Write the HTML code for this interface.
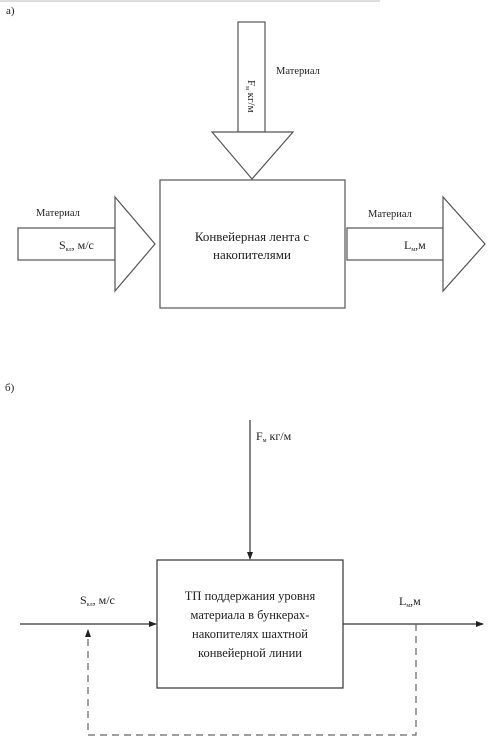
<!DOCTYPE html>
<html><head><meta charset="utf-8"><style>
html,body{margin:0;padding:0;background:#fff;}
svg{display:block;}
text{font-family:"Liberation Serif","DejaVu Serif",serif;fill:#222;}
</style></head><body>
<svg width="491" height="745" viewBox="0 0 491 745" xmlns="http://www.w3.org/2000/svg">
<defs>
<marker id="ah" markerWidth="8" markerHeight="6" refX="7" refY="3" orient="auto" markerUnits="userSpaceOnUse"><path d="M0,0 L8,3 L0,6 Z" fill="#222"/></marker>
</defs>
<rect x="0" y="0" width="380" height="2" fill="#ddd"/>
<text x="6" y="14" font-size="11">а)</text>
<g fill="none" stroke="#555" stroke-width="1.2">
<rect x="238" y="22" width="27" height="110"/>
<path d="M212,132 L293,132 L252,179 Z" fill="#fff"/>
<rect x="160" y="180" width="185" height="128"/>
<rect x="18" y="228" width="97" height="32"/>
<path d="M115,197 L115,291 L155,244 Z" fill="#fff"/>
<rect x="347" y="228" width="96" height="32"/>
<path d="M443,197 L443,291 L485,244 Z" fill="#fff"/>
</g>
<text x="276" y="74" font-size="10.5">Материал</text>
<text transform="translate(248,80) rotate(90)" font-size="11">F<tspan font-size="6" dy="2">м</tspan><tspan dy="-2">   кг/м</tspan></text>
<text x="36" y="216" font-size="10.5">Материал</text>
<text x="59" y="249" font-size="12">S<tspan font-size="6" dy="2">кл</tspan><tspan dy="-2">, м/с</tspan></text>
<text x="368" y="217" font-size="10.5">Материал</text>
<text x="404" y="249" font-size="12">L<tspan font-size="6" dy="2">м</tspan><tspan dy="-2">,м</tspan></text>
<text x="252" y="241" font-size="13" text-anchor="middle">Конвейерная лента с</text>
<text x="252" y="259" font-size="13" text-anchor="middle">накопителями</text>

<text x="5" y="391" font-size="11">б)</text>
<g fill="none" stroke="#333" stroke-width="1.2">
<line x1="250" y1="420" x2="250" y2="559" marker-end="url(#ah)"/>
<rect x="157" y="560" width="186" height="128"/>
<line x1="20" y1="624" x2="156" y2="624" marker-end="url(#ah)"/>
<line x1="343" y1="624" x2="483" y2="624" marker-end="url(#ah)"/>
<path d="M416,624 L416,735 L88,735 L88,630" stroke="#666" stroke-dasharray="7,5" marker-end="url(#ah)"/>
</g>
<text x="256" y="440" font-size="12">F<tspan font-size="6" dy="2">м</tspan><tspan dy="-2">   кг/м</tspan></text>
<text x="80" y="604" font-size="12">S<tspan font-size="6" dy="2">кл</tspan><tspan dy="-2">, м/с</tspan></text>
<text x="399" y="605" font-size="12">L<tspan font-size="6" dy="2">м</tspan><tspan dy="-2">,м</tspan></text>
<text x="250" y="600" font-size="12.5" text-anchor="middle">ТП поддержания уровня</text>
<text x="250" y="619" font-size="12.5" text-anchor="middle">материала в бункерах-</text>
<text x="250" y="638" font-size="12.5" text-anchor="middle">накопителях шахтной</text>
<text x="250" y="657" font-size="12.5" text-anchor="middle">конвейерной линии</text>
</svg>
</body></html>
